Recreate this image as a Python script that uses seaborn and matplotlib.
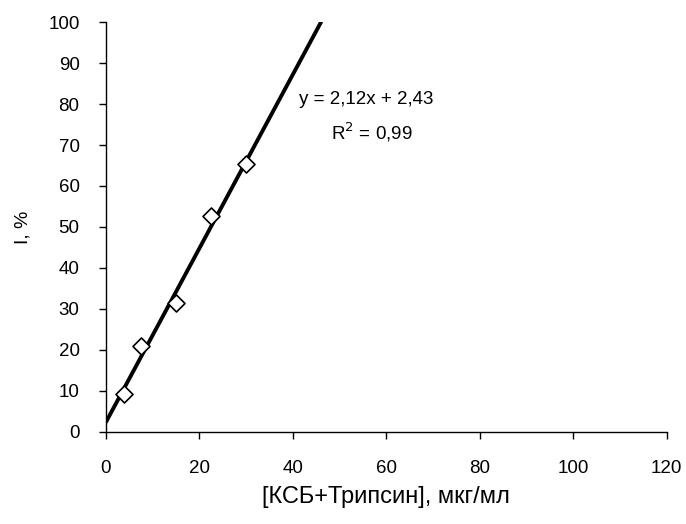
import numpy as np
import pandas as pd
import seaborn as sns
import matplotlib
matplotlib.use('Agg')
import matplotlib.pyplot as plt

# data
conc = [3.75, 7.5, 15, 22.5, 30]
inhib = [9.2, 21.0, 31.5, 52.8, 65.3]
slope = 2.12
intercept = 2.43
x_ticks = [0, 20, 40, 60, 80, 100, 120]
y_ticks = [0, 10, 20, 30, 40, 50, 60, 70, 80, 90, 100]

sns.set_style('ticks')
plt.rcParams['font.family'] = ['Liberation Sans', 'DejaVu Sans']
plt.rcParams['text.color'] = 'black'
plt.rcParams['axes.labelcolor'] = 'black'
plt.rcParams['xtick.color'] = 'black'
plt.rcParams['ytick.color'] = 'black'

df = pd.DataFrame({'x': conc, 'y': inhib})
x_end = (100 - intercept) / slope
trend = pd.DataFrame({'x': [0, x_end]})
trend['y'] = slope * trend['x'] + intercept

fig = plt.figure(figsize=(6.86, 5.24), dpi=100)
ax = fig.add_axes([0.1545, 0.1756, 0.8175, 0.7824])

sns.lineplot(data=trend, x='x', y='y', ax=ax, color='black', linewidth=2.8, zorder=2)
sns.scatterplot(data=df, x='x', y='y', ax=ax, marker='D', s=75,
                facecolor='white', edgecolor='black', linewidth=1.2, zorder=3)

ax.set_xlim(0, 120)
ax.set_ylim(0, 100)
ax.set_xticks(x_ticks)
ax.set_yticks(y_ticks)
ax.tick_params(labelsize=13.5, length=5, width=1, colors='black')
ax.tick_params(axis='x', pad=15)
ax.tick_params(axis='y', pad=14)
for s in ['left', 'bottom']:
    ax.spines[s].set_color('black')
    ax.spines[s].set_linewidth(1)
sns.despine(ax=ax)

ax.set_xlabel('[КСБ+Трипсин], мкг/мл', fontsize=17, labelpad=7)
ax.set_ylabel('I, %', fontsize=14, labelpad=12)

ax.text(41.2, 81, 'y = 2,12x + 2,43', fontsize=13.5, ha='left', va='center')
ax.text(48.1, 73, 'R$^2$ = 0,99', fontsize=13.5, ha='left', va='center')

fig.savefig('out.png', dpi=100)
